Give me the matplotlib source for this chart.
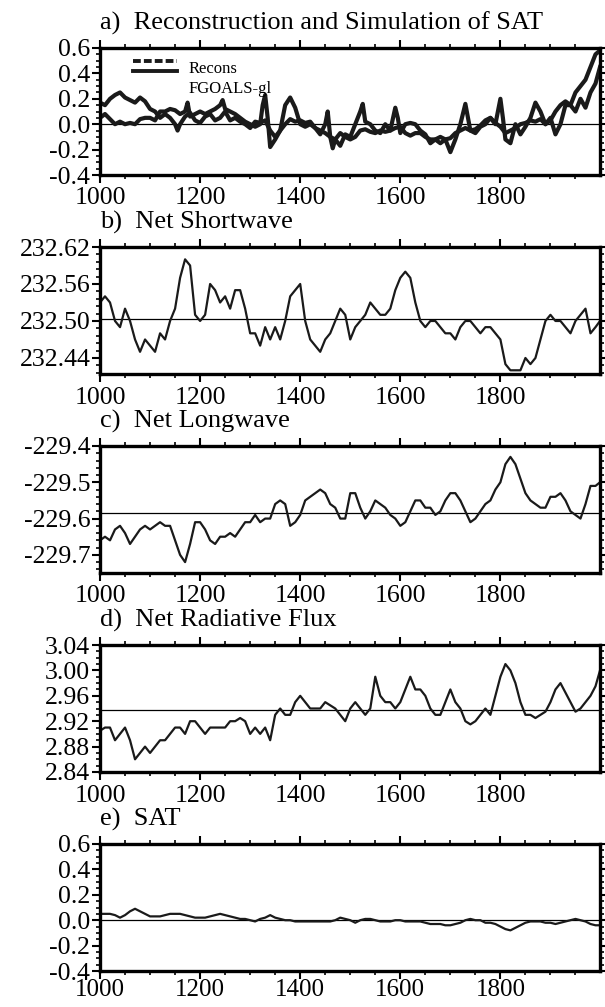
import matplotlib
matplotlib.use("Agg")
import matplotlib.pyplot as plt
from matplotlib.ticker import MultipleLocator, FormatStrFormatter

plt.rcParams['font.family'] = ['Liberation Serif', 'DejaVu Serif']

# ---- panel a: SAT reconstruction and simulation (anomaly, K)
yr_a = [1000, 1010, 1020, 1030, 1040, 1050, 1060, 1070, 1080, 1090, 1100, 1110, 1120, 1130, 1140,
        1150, 1155, 1160, 1170, 1180, 1190, 1200, 1210, 1220, 1230, 1240, 1250, 1260, 1270, 1280,
        1290, 1300, 1310, 1320, 1330, 1340, 1350, 1360, 1370, 1380, 1390, 1400, 1410, 1420, 1430,
        1440, 1450, 1460, 1470, 1480, 1490, 1500, 1510, 1520, 1530, 1540, 1550, 1560, 1570, 1580,
        1590, 1600, 1610, 1620, 1630, 1640, 1650, 1660, 1670, 1680, 1690, 1700, 1710, 1720, 1730,
        1740, 1750, 1760, 1770, 1780, 1790, 1800, 1810, 1820, 1830, 1840, 1850, 1860, 1870, 1880,
        1890, 1900, 1910, 1920, 1930, 1940, 1950, 1960, 1970, 1980, 1990, 1999]
recons = [0.17, 0.15, 0.20, 0.23, 0.25, 0.21, 0.19, 0.17, 0.21, 0.18, 0.12, 0.10, 0.05, 0.08, 0.05,
          0.00, -0.05, 0.00, 0.06, 0.09, 0.03, 0.01, 0.06, 0.08, 0.03, 0.05, 0.10, 0.03, 0.05, 0.02,
          0.00, -0.03, 0.02, 0.01, 0.03, -0.05, -0.10, -0.05, 0.00, 0.04, 0.02, 0.03, 0.01, 0.02, -0.03,
          -0.05, -0.07, -0.10, -0.12, -0.07, -0.10, -0.12, -0.10, -0.05, -0.04, -0.06, -0.07, -0.05, -0.06, -0.05,
          -0.03, -0.02, -0.07, -0.09, -0.07, -0.07, -0.10, -0.12, -0.12, -0.10, -0.12, -0.11, -0.07, -0.05, -0.03,
          -0.05, -0.04, -0.01, 0.03, 0.05, 0.01, -0.02, -0.07, -0.05, -0.03, 0.00, 0.01, 0.03, 0.02, 0.04,
          0.00, 0.03, 0.10, 0.15, 0.18, 0.15, 0.25, 0.30, 0.35, 0.45, 0.55, 0.58]

yr_f = [1000, 1010, 1020, 1030, 1040, 1050, 1060, 1070, 1080, 1090, 1100, 1110, 1120, 1130, 1140,
        1150, 1160, 1170, 1175, 1180, 1190, 1200, 1210, 1220, 1230, 1240, 1245, 1250, 1260, 1270,
        1280, 1290, 1300, 1310, 1320, 1325, 1330, 1335, 1340, 1350, 1360, 1370, 1380, 1390, 1400,
        1410, 1420, 1430, 1440, 1450, 1455, 1460, 1465, 1470, 1480, 1490, 1500, 1510, 1520, 1525,
        1530, 1540, 1550, 1560, 1570, 1580, 1590, 1595, 1600, 1610, 1620, 1630, 1640, 1650, 1660,
        1670, 1680, 1690, 1700, 1710, 1720, 1730, 1740, 1750, 1760, 1770, 1780, 1790, 1800, 1805,
        1810, 1820, 1830, 1840, 1850, 1860, 1870, 1880, 1890, 1900, 1910, 1920, 1930, 1940, 1950,
        1960, 1970, 1980, 1990, 1999]
fgoals = [0.05, 0.08, 0.04, 0.00, 0.02, 0.00, 0.01, 0.00, 0.04, 0.05, 0.05, 0.03, 0.10, 0.10, 0.12,
          0.11, 0.08, 0.10, 0.17, 0.06, 0.08, 0.10, 0.08, 0.10, 0.12, 0.15, 0.19, 0.12, 0.10, 0.08,
          0.05, 0.02, 0.00, -0.02, 0.00, 0.15, 0.23, 0.05, -0.18, -0.12, -0.05, 0.15, 0.21, 0.13, 0.00,
          -0.02, 0.00, -0.03, -0.08, 0.00, 0.10, -0.10, -0.19, -0.12, -0.17, -0.08, -0.10, 0.00, 0.10, 0.16,
          0.02, 0.00, -0.05, -0.07, 0.00, -0.05, 0.13, 0.05, -0.07, 0.00, 0.01, 0.00, -0.05, -0.08, -0.15,
          -0.12, -0.15, -0.12, -0.22, -0.12, 0.00, 0.16, -0.05, -0.07, -0.02, 0.00, 0.05, 0.00, 0.20, 0.05,
          -0.12, -0.15, 0.00, -0.08, -0.02, 0.05, 0.17, 0.10, 0.00, 0.05, -0.08, 0.00, 0.15, 0.15, 0.10,
          0.20, 0.13, 0.25, 0.32, 0.45]

# ---- panels b-e: simulated fluxes and SAT, decadal samples
yr = list(range(1000, 2000, 10)) + [1999]
net_sw = [232.53, 232.54, 232.53, 232.50, 232.49, 232.52, 232.50, 232.47, 232.45, 232.47,
          232.46, 232.45, 232.48, 232.47, 232.50, 232.52, 232.57, 232.60, 232.59, 232.51,
          232.50, 232.51, 232.56, 232.55, 232.53, 232.54, 232.52, 232.55, 232.55, 232.52,
          232.48, 232.48, 232.46, 232.49, 232.47, 232.49, 232.47, 232.50, 232.54, 232.55,
          232.56, 232.50, 232.47, 232.46, 232.45, 232.47, 232.48, 232.50, 232.52, 232.51,
          232.47, 232.49, 232.50, 232.51, 232.53, 232.52, 232.51, 232.51, 232.52, 232.55,
          232.57, 232.58, 232.57, 232.53, 232.50, 232.49, 232.50, 232.50, 232.49, 232.48,
          232.48, 232.47, 232.49, 232.50, 232.50, 232.49, 232.48, 232.49, 232.49, 232.48,
          232.47, 232.43, 232.42, 232.42, 232.42, 232.44, 232.43, 232.44, 232.47, 232.50,
          232.51, 232.50, 232.50, 232.49, 232.48, 232.50, 232.51, 232.52, 232.48, 232.49, 232.50]
net_lw = [-229.66, -229.65, -229.66, -229.63, -229.62, -229.64, -229.67, -229.65, -229.63, -229.62,
          -229.63, -229.62, -229.61, -229.62, -229.62, -229.66, -229.70, -229.72, -229.67, -229.61,
          -229.61, -229.63, -229.66, -229.67, -229.65, -229.65, -229.64, -229.65, -229.63, -229.61,
          -229.61, -229.59, -229.61, -229.60, -229.60, -229.56, -229.55, -229.56, -229.62, -229.61,
          -229.59, -229.55, -229.54, -229.53, -229.52, -229.53, -229.56, -229.57, -229.60, -229.60,
          -229.53, -229.53, -229.57, -229.60, -229.58, -229.55, -229.56, -229.57, -229.59, -229.60,
          -229.62, -229.61, -229.58, -229.55, -229.55, -229.57, -229.57, -229.59, -229.58, -229.55,
          -229.53, -229.53, -229.55, -229.58, -229.61, -229.60, -229.58, -229.56, -229.55, -229.52,
          -229.50, -229.45, -229.43, -229.45, -229.49, -229.53, -229.55, -229.56, -229.57, -229.57,
          -229.54, -229.54, -229.53, -229.55, -229.58, -229.59, -229.60, -229.56, -229.51, -229.51, -229.50]
net_rad = [2.905, 2.91, 2.91, 2.89, 2.90, 2.91, 2.89, 2.86, 2.87, 2.88,
           2.87, 2.88, 2.89, 2.89, 2.90, 2.91, 2.91, 2.90, 2.92, 2.92,
           2.91, 2.90, 2.91, 2.91, 2.91, 2.91, 2.92, 2.92, 2.925, 2.92,
           2.90, 2.91, 2.90, 2.91, 2.89, 2.93, 2.94, 2.93, 2.93, 2.95,
           2.96, 2.95, 2.94, 2.94, 2.94, 2.95, 2.945, 2.94, 2.93, 2.92,
           2.94, 2.95, 2.94, 2.93, 2.94, 2.99, 2.96, 2.95, 2.95, 2.94,
           2.95, 2.97, 2.99, 2.97, 2.97, 2.96, 2.94, 2.93, 2.93, 2.95,
           2.97, 2.95, 2.94, 2.92, 2.915, 2.92, 2.93, 2.94, 2.93, 2.96,
           2.99, 3.01, 3.00, 2.98, 2.95, 2.93, 2.93, 2.925, 2.93, 2.935,
           2.95, 2.97, 2.98, 2.965, 2.95, 2.935, 2.94, 2.95, 2.96, 2.975, 3.00]
sat = [0.05, 0.05, 0.05, 0.04, 0.02, 0.04, 0.07, 0.09, 0.07, 0.05,
       0.03, 0.03, 0.03, 0.04, 0.05, 0.05, 0.05, 0.04, 0.03, 0.02,
       0.02, 0.02, 0.03, 0.04, 0.05, 0.04, 0.03, 0.02, 0.01, 0.01,
       0.00, -0.01, 0.01, 0.02, 0.04, 0.02, 0.01, 0.00, 0.00, -0.01,
       -0.01, -0.01, -0.01, -0.01, -0.01, -0.01, -0.01, 0.00, 0.02, 0.01,
       0.00, -0.02, 0.00, 0.01, 0.01, 0.00, -0.01, -0.01, -0.01, 0.00,
       0.00, -0.01, -0.01, -0.01, -0.01, -0.02, -0.03, -0.03, -0.03, -0.04,
       -0.04, -0.03, -0.02, 0.00, 0.01, 0.00, 0.00, -0.02, -0.02, -0.03,
       -0.05, -0.07, -0.08, -0.06, -0.04, -0.02, -0.01, -0.01, -0.01, -0.02,
       -0.02, -0.03, -0.02, -0.01, 0.00, 0.01, 0.00, -0.01, -0.03, -0.04, -0.04]

titles = ["a)  Reconstruction and Simulation of SAT", "b)  Net Shortwave", "c)  Net Longwave",
          "d)  Net Radiative Flux", "e)  SAT"]
ylims = [(-0.4, 0.6), (232.414, 232.62), (-229.75, -229.4), (2.84, 3.04), (-0.4, 0.6)]
ymajor = [0.2, 0.06, 0.1, 0.04, 0.2]
yminor = [0.05, 0.012, 0.02, 0.01, 0.05]
yfmt = ["%.1f", "%.2f", "%.1f", "%.2f", "%.1f"]
reflines = [0.0, 232.503, -229.585, 2.937, 0.0]

fig = plt.figure(figsize=(6.05, 10.07), dpi=100)
W, H = 605.0, 1007.0
axes = []
for i in range(5):
    top = 48 + 199 * i
    ax = fig.add_axes([100 / W, 1 - (top + 127) / H, 500 / W, 127 / H])
    axes.append(ax)

for i, ax in enumerate(axes):
    ax.set_xlim(1000, 1999)
    ax.set_ylim(*ylims[i])
    ax.axhline(reflines[i], color="black", lw=0.9, zorder=1)
    ax.xaxis.set_major_locator(MultipleLocator(200))
    ax.xaxis.set_minor_locator(MultipleLocator(50))
    ax.yaxis.set_major_locator(MultipleLocator(ymajor[i]))
    ax.yaxis.set_minor_locator(MultipleLocator(yminor[i]))
    ax.yaxis.set_major_formatter(FormatStrFormatter(yfmt[i]))
    ax.tick_params(which="both", direction="out", top=True, right=True, labelsize=18.5, pad=1.5)
    if i < 4:
        ax.tick_params(axis="x", pad=3.5)
    else:
        ax.tick_params(axis="x", pad=0.5, labelsize=18)
    ax.tick_params(which="major", length=5.5, width=1.5)
    ax.tick_params(which="minor", length=3, width=1.2)
    for s in ax.spines.values():
        s.set_linewidth(2.4)
    ax.text(0.0, 1.10, titles[i], transform=ax.transAxes, fontsize=19, ha="left", va="bottom")

ax = axes[0]
ax.plot(yr_a, recons, color="#1a1a1a", lw=3.0)
ax.plot(yr_f, fgoals, color="#1a1a1a", lw=3.0)
ax.plot([0.066, 0.154], [0.898, 0.898], transform=ax.transAxes, color="#1a1a1a", lw=2.8, ls=(0, (2, 0.8)))
ax.plot([0.066, 0.154], [0.822, 0.822], transform=ax.transAxes, color="#1a1a1a", lw=2.8)
ax.text(0.178, 0.835, "Recons", transform=ax.transAxes, fontsize=12, va="center")
ax.text(0.178, 0.677, "FGOALS-gl", transform=ax.transAxes, fontsize=12, va="center")

axes[1].plot(yr, net_sw, color="#1a1a1a", lw=1.6)
axes[2].plot(yr, net_lw, color="#1a1a1a", lw=1.6)
axes[3].plot(yr, net_rad, color="#1a1a1a", lw=1.6)
axes[4].plot(yr, sat, color="#1a1a1a", lw=1.6)

fig.savefig("out.png", dpi=100)
